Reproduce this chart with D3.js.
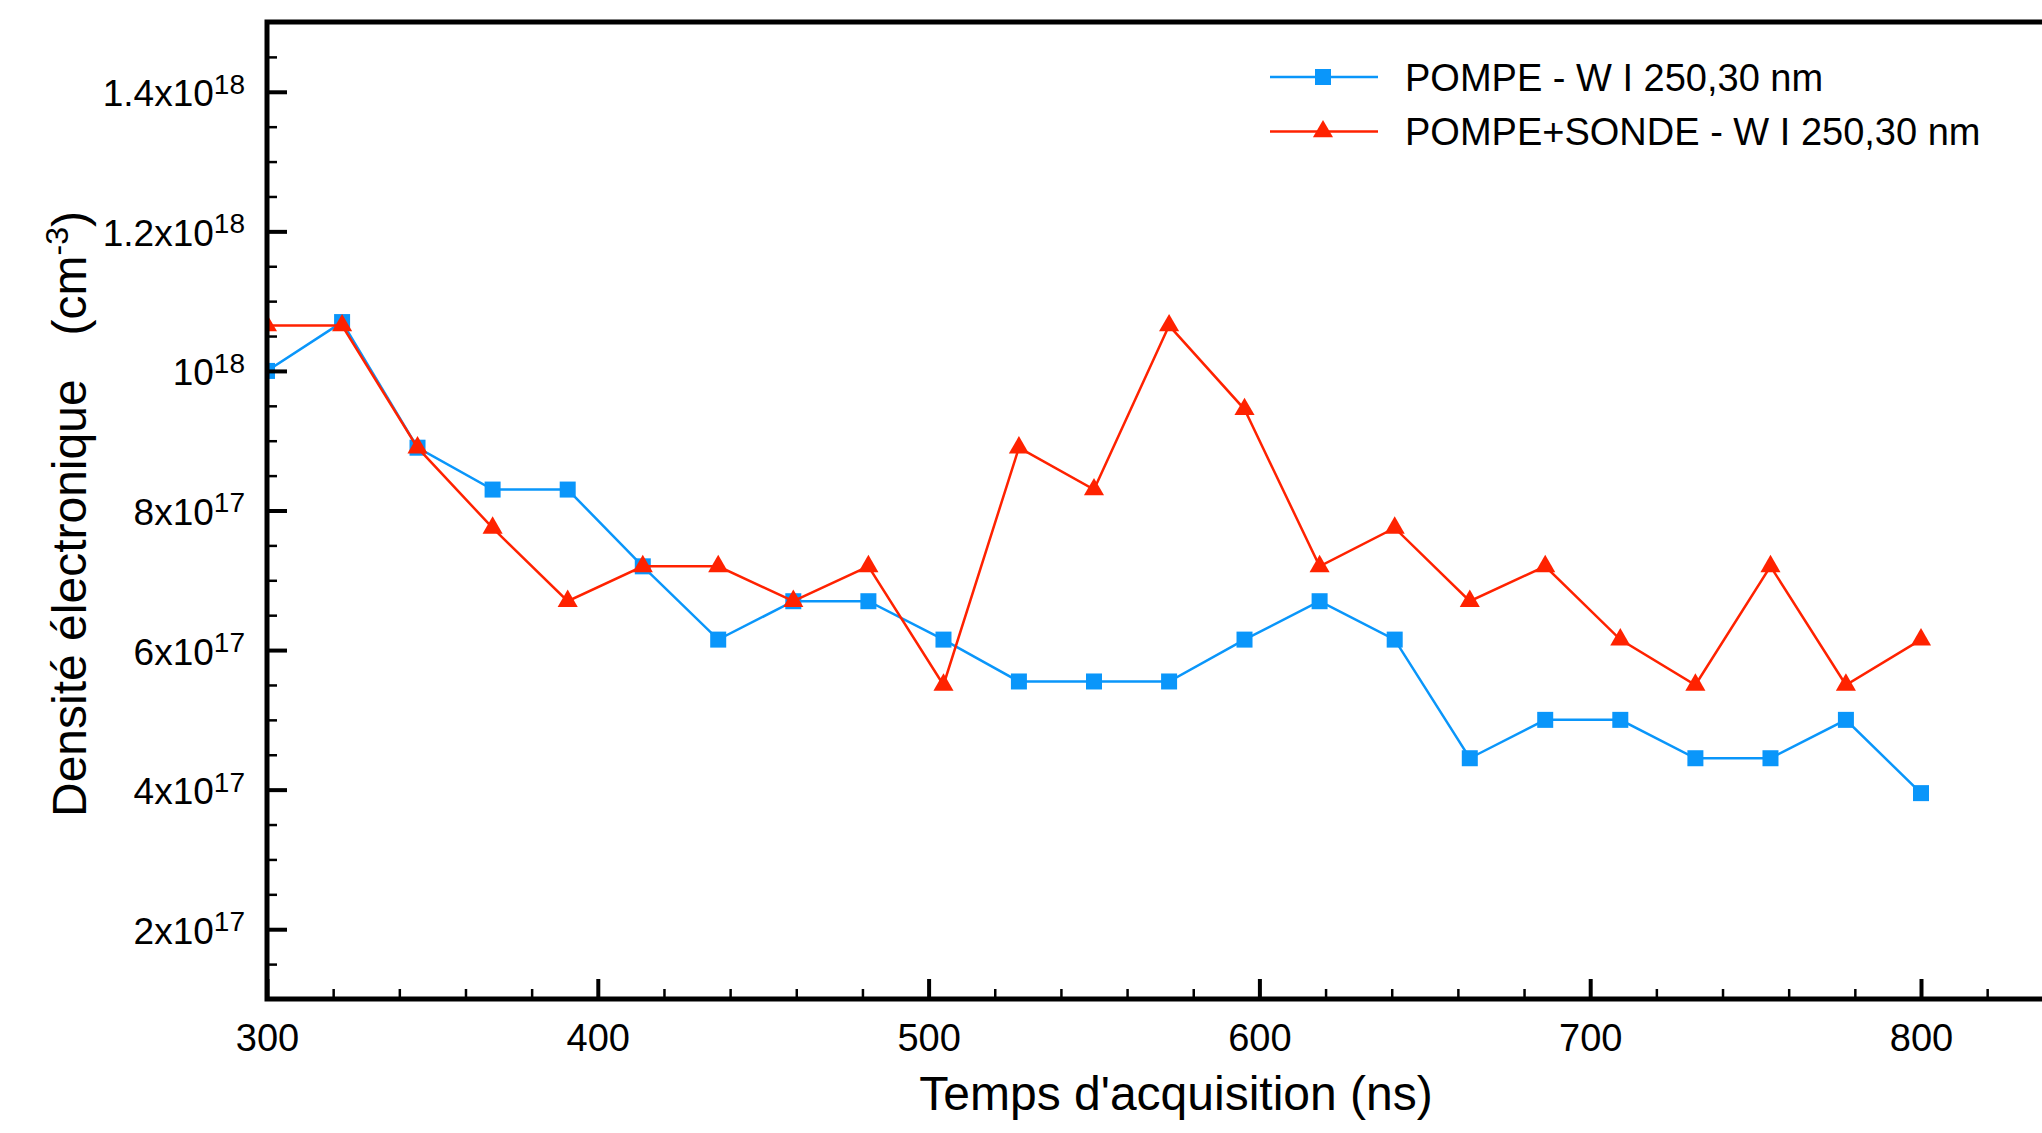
<!DOCTYPE html>
<html lang="fr">
    <head>
        <meta charset="utf-8">
        <title>Densité électronique</title>
        <script src="https://cdn.jsdelivr.net/npm/d3@7"></script>
        <style>
            body { margin: 0; background: white; }
            text { font-family: "Liberation Sans", Arial, sans-serif; fill: black; }
        </style>
    </head>
    <body>
        <script type="text/javascript">

          // acquisition times (ns)
          var times = [300, 322.7, 345.5, 368.2, 390.9, 413.6, 436.4, 459.1, 481.8, 504.5, 527.3, 550,
                       572.7, 595.5, 618.2, 640.9, 663.6, 686.4, 709.1, 731.8, 754.5, 777.3, 800];

          // electron density, in units of 1e17 cm-3
          var pompe = [10.0, 10.7, 8.9, 8.3, 8.3, 7.2, 6.15, 6.7, 6.7, 6.15, 5.55, 5.55,
                       5.55, 6.15, 6.7, 6.15, 4.45, 5.0, 5.0, 4.45, 4.45, 5.0, 3.95];
          var pompeSonde = [10.65, 10.65, 8.9, 7.75, 6.7, 7.2, 7.2, 6.7, 7.2, 5.5, 8.9, 8.3,
                            10.65, 9.45, 7.2, 7.75, 6.7, 7.2, 6.15, 5.5, 7.2, 5.5, 6.15];

          var seriesNames = ["POMPE - W I 250,30 nm", "POMPE+SONDE - W I 250,30 nm"];

          // tick values and labels
          var xTicks = [300, 400, 500, 600, 700, 800];
          var xMinorTicks = [320, 340, 360, 380, 420, 440, 460, 480, 520, 540, 560, 580,
                             620, 640, 660, 680, 720, 740, 760, 780, 820, 840];
          var yTicks = [2e17, 4e17, 6e17, 8e17, 1e18, 1.2e18, 1.4e18];
          var yTickBase = ["2x10", "4x10", "6x10", "8x10", "10", "1.2x10", "1.4x10"];
          var yTickExp = ["17", "17", "17", "17", "18", "18", "18"];
          var yMinorTicks = [1.5e17, 2.5e17, 3e17, 3.5e17, 4.5e17, 5e17, 5.5e17, 6.5e17, 7e17, 7.5e17,
                             8.5e17, 9e17, 9.5e17, 1.05e18, 1.1e18, 1.15e18, 1.25e18, 1.3e18, 1.35e18, 1.45e18];

          // sizes
          var width = 2042;
          var height = 1133;
          var leftOfChart = 267;
          var topOfChart = 22;
          var bottomOfChart = 999;
          var blue = "#0a96fa";
          var red = "#ff2200";

          var svg = d3.select("body")
            .append("svg")
            .attr("width", width)
            .attr("height", height);

          var xScale = d3.scaleLinear()
                         .domain([300, 800])
                         .range([leftOfChart, 1921]);
          var yScale = d3.scaleLinear()
                         .domain([1e17, 1.5e18])
                         .range([bottomOfChart, topOfChart]);

          // clip markers at the axes
          svg.append("clipPath")
             .attr("id", "plot")
             .append("rect")
             .attr("x", leftOfChart)
             .attr("y", topOfChart)
             .attr("width", width - leftOfChart)
             .attr("height", bottomOfChart - topOfChart);

          var series = [
            {name: seriesNames[0], color: blue, marker: "square",
             points: times.map(function(t, i) { return {t: t, v: pompe[i] * 1e17}; })},
            {name: seriesNames[1], color: red, marker: "triangle",
             points: times.map(function(t, i) { return {t: t, v: pompeSonde[i] * 1e17}; })}
          ];

          var line = d3.line()
                       .x(function(d) { return xScale(d.t); })
                       .y(function(d) { return yScale(d.v); });

          var triangle = d3.symbol().type(d3.symbolTriangle).size(175);

          function drawMarker(g, kind, color) {
            if (kind === "square") {
              g.append("rect")
               .attr("x", -8).attr("y", -8)
               .attr("width", 16).attr("height", 16)
               .attr("fill", color);
            } else {
              g.append("path")
               .attr("d", triangle)
               .attr("fill", color);
            }
          }

          var plot = svg.append("g").attr("clip-path", "url(#plot)");

          series.forEach(function(s) {
            plot.append("path")
                .datum(s.points)
                .attr("fill", "none")
                .attr("stroke", s.color)
                .attr("stroke-width", 2.5)
                .attr("d", line);

            plot.selectAll(null)
                .data(s.points)
                .enter()
                .append("g")
                .attr("transform", function(d) {
                  return "translate(" + [xScale(d.t), yScale(d.v)] + ")";
                })
                .each(function() { drawMarker(d3.select(this), s.marker, s.color); });
          });

          // x axis, ticks pointing inward
          var xAxis = svg.append("g")
             .attr("transform", "translate(" + [0, bottomOfChart] + ")")
             .call(d3.axisBottom(xScale).tickValues(xTicks).tickSizeInner(-20)
                     .tickSizeOuter(0).tickPadding(25).tickFormat(d3.format("d")));
          xAxis.select(".domain").remove();
          xAxis.selectAll("line").attr("stroke-width", 4);
          xAxis.selectAll("text").style("font-size", "38px").attr("fill", "black");

          var xMinor = svg.append("g")
             .attr("transform", "translate(" + [0, bottomOfChart] + ")")
             .call(d3.axisBottom(xScale).tickValues(xMinorTicks).tickSizeInner(-10)
                     .tickSizeOuter(0).tickFormat(""));
          xMinor.select(".domain").remove();
          xMinor.selectAll("line").attr("stroke-width", 2.5);

          // y axis
          var yAxis = svg.append("g")
             .attr("transform", "translate(" + [leftOfChart, 0] + ")")
             .call(d3.axisLeft(yScale).tickValues(yTicks).tickSizeInner(-20)
                     .tickSizeOuter(0).tickPadding(22).tickFormat(""));
          yAxis.select(".domain").remove();
          yAxis.selectAll("line").attr("stroke-width", 4);
          yAxis.selectAll(".tick text")
               .attr("dy", "0.38em")
               .style("font-size", "37px")
               .attr("fill", "black")
               .each(function(d, i) {
                 var t = d3.select(this);
                 t.append("tspan").text(yTickBase[i]);
                 t.append("tspan")
                  .attr("dy", "-0.45em")
                  .style("font-size", "28px")
                  .text(yTickExp[i]);
               });

          var yMinor = svg.append("g")
             .attr("transform", "translate(" + [leftOfChart, 0] + ")")
             .call(d3.axisLeft(yScale).tickValues(yMinorTicks).tickSizeInner(-10)
                     .tickSizeOuter(0).tickFormat(""));
          yMinor.select(".domain").remove();
          yMinor.selectAll("line").attr("stroke-width", 2.5);

          // frame lines (right side runs off the picture)
          svg.append("path")
             .attr("d", "M" + width + "," + topOfChart + "H" + leftOfChart +
                        "V" + bottomOfChart + "H" + width)
             .attr("fill", "none")
             .attr("stroke", "black")
             .attr("stroke-width", 5);

          // axis titles
          svg.append("text")
             .attr("x", 1176)
             .attr("y", 1110)
             .style("text-anchor", "middle")
             .style("font-size", "48px")
             .text("Temps d'acquisition (ns)");

          var yTitle = svg.append("text")
             .attr("transform", "rotate(-90)")
             .attr("x", -514)
             .attr("y", 86)
             .style("text-anchor", "middle")
             .style("font-size", "48px");
          yTitle.append("tspan").text("Densité électronique");
          yTitle.append("tspan").attr("dx", 44).text("(cm");
          yTitle.append("tspan").attr("dy", -18).style("font-size", "32px").text("-3");
          yTitle.append("tspan").attr("dy", 18).text(")");

          // legend
          var legend = svg.selectAll(".legend")
             .data(series)
             .enter()
             .append("g")
             .attr("class", "legend")
             .attr("transform", function(d, i) { return "translate(" + [1270, 77 + i * 54.5] + ")"; });

          legend.append("line")
                .attr("x1", 0).attr("x2", 108)
                .attr("stroke", function(d) { return d.color; })
                .attr("stroke-width", 2.5);
          legend.append("g")
                .attr("transform", "translate(53,0)")
                .each(function(d) { drawMarker(d3.select(this), d.marker, d.color); });
          legend.append("text")
                .attr("x", 135)
                .attr("dy", "0.36em")
                .style("font-size", "38px")
                .text(function(d) { return d.name; });
        </script>
    </body>
</html>
